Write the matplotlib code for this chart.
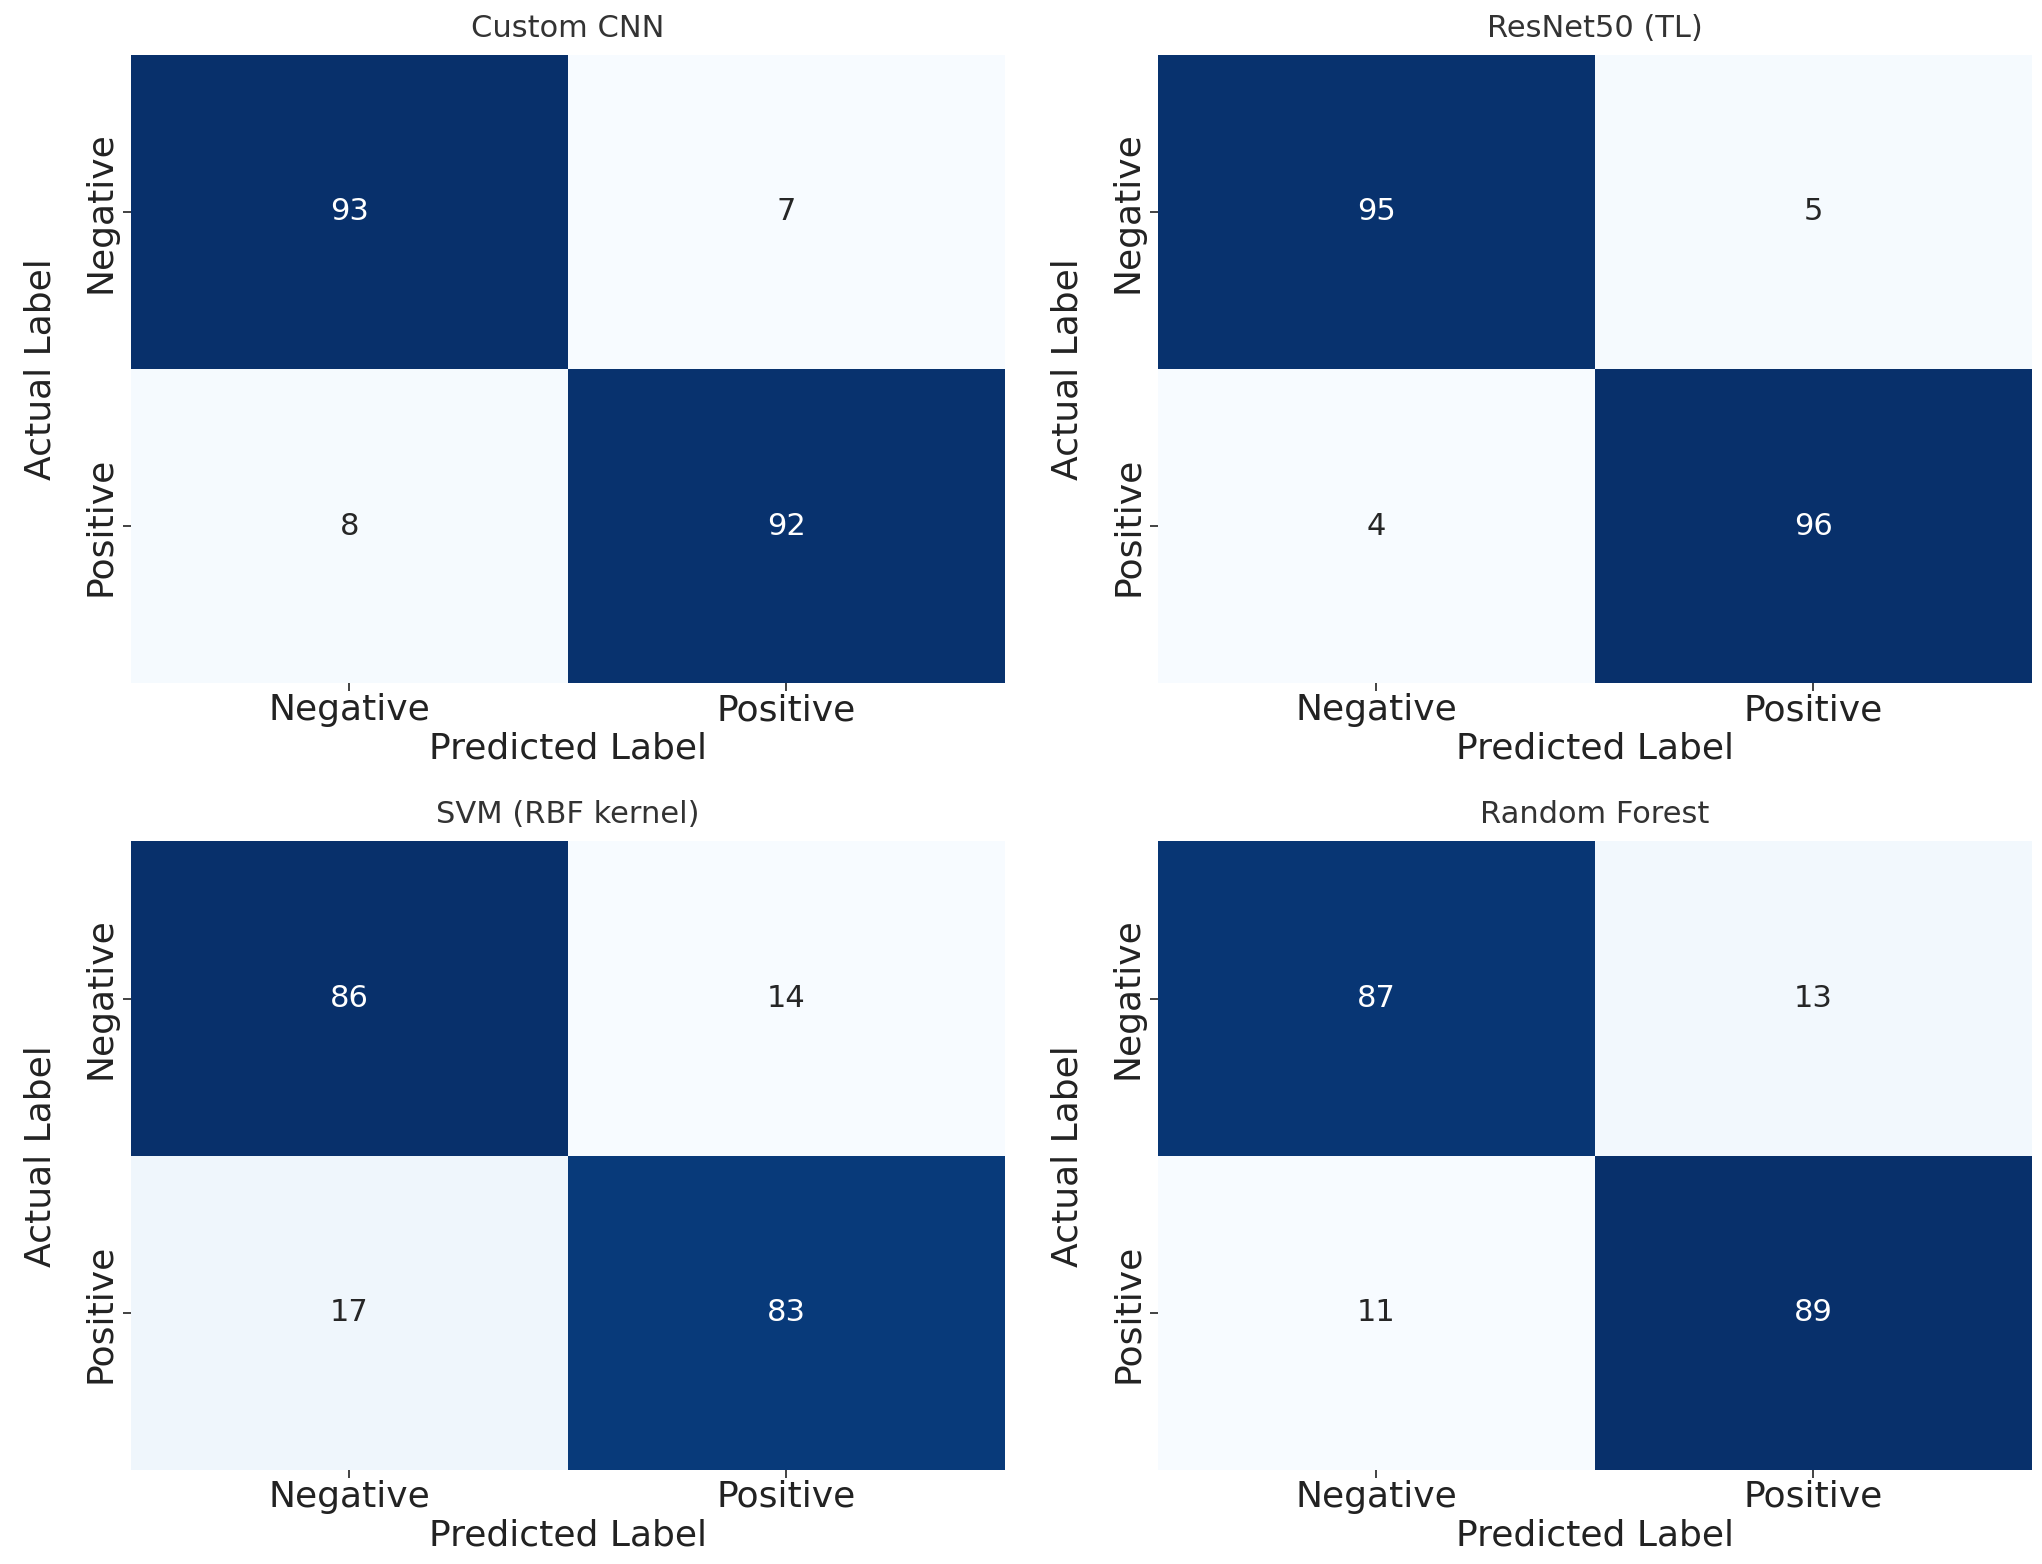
import numpy as np
import matplotlib
matplotlib.use("Agg")
import matplotlib.pyplot as plt
import seaborn as sns

labels = ["Negative", "Positive"]
titles = ["Custom CNN", "ResNet50 (TL)", "SVM (RBF kernel)", "Random Forest"]
cm_cnn = [[93, 7], [8, 92]]
cm_resnet = [[95, 5], [4, 96]]
cm_svm = [[86, 14], [17, 83]]
cm_rf = [[87, 13], [11, 89]]
matrices = [cm_cnn, cm_resnet, cm_svm, cm_rf]

plt.rcParams['font.family'] = ['DejaVu Sans']

fig = plt.figure(figsize=(20.42, 15.64), dpi=100)
positions = [
    [0.064, 0.563, 0.428, 0.402],
    [0.567, 0.563, 0.428, 0.402],
    [0.064, 0.060, 0.428, 0.402],
    [0.567, 0.060, 0.428, 0.402],
]

for pos, mat, title in zip(positions, matrices, titles):
    ax = fig.add_axes(pos)
    sns.heatmap(np.array(mat), annot=True, fmt="d", cmap="Blues", cbar=False,
                xticklabels=labels, yticklabels=labels, ax=ax,
                annot_kws={"fontsize": 22})
    ax.set_title(title, fontsize=22, color="#333333", pad=13)
    ax.set_xlabel("Predicted Label", fontsize=26, color="#222222", labelpad=3)
    ax.set_ylabel("Actual Label", fontsize=26, color="#222222", labelpad=19)
    ax.tick_params(axis="both", labelsize=26, length=6, width=1.2, colors="#222222")
    ax.tick_params(axis="x", pad=1)
    for t in ax.get_yticklabels():
        t.set_rotation(90)
        t.set_va("center")

fig.savefig("out.png", dpi=100)
